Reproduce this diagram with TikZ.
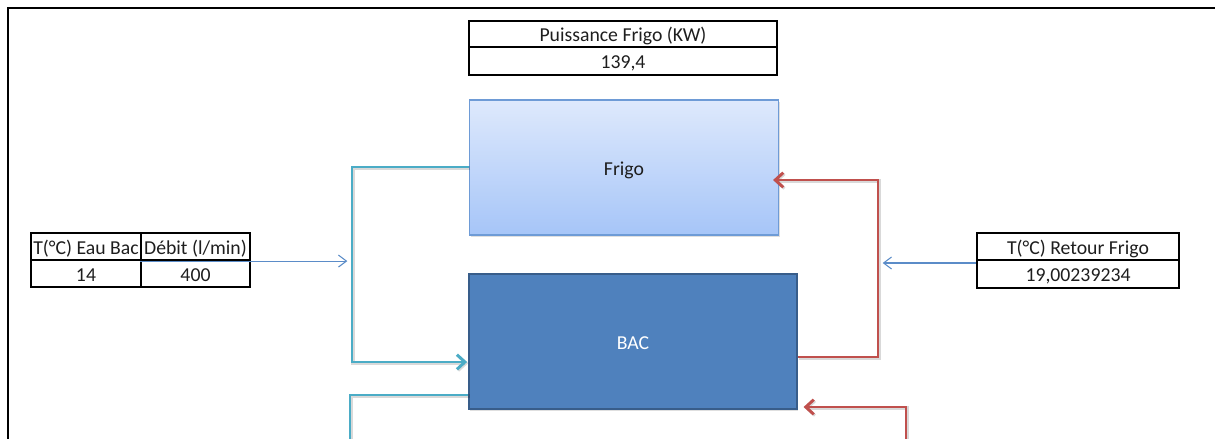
\documentclass[tikz,border=0pt]{standalone}
\usepackage{fontspec}
\setmainfont{Carlito}
\usetikzlibrary{arrows.meta,shadows}

\definecolor{pipecyan}{HTML}{4BACC6}
\definecolor{pipered}{HTML}{C0504D}
\definecolor{flowblue}{HTML}{5B8CC8}
\definecolor{bacfill}{HTML}{4F81BD}
\definecolor{bacline}{HTML}{385D8A}
\definecolor{frigotop}{HTML}{DEE9FC}
\definecolor{frigobot}{HTML}{A6C5F8}
\definecolor{frigoline}{HTML}{6E9BD6}
\definecolor{txt}{HTML}{1E1E1E}

\tikzset{
  lbl/.style={font=\fontsize{14.8pt}{17pt}\selectfont, text height=11.5pt, text depth=0pt},
  cell/.style={lbl, draw=black, line width=1.6pt, inner sep=0pt, text=txt},
  unit/.style={lbl, draw=frigoline, line width=0.9pt, inner sep=0pt,
    top color=frigotop, bottom color=frigobot, text=txt,
    drop shadow={shadow xshift=1pt, shadow yshift=-1.2pt, opacity=0.25}},
  tank/.style={lbl, draw=bacline, line width=0.9pt, inner sep=0pt,
    fill=bacfill, text=white,
    drop shadow={shadow xshift=1pt, shadow yshift=-1.2pt, opacity=0.25}},
  pipe/.style={line width=2.2pt, line join=miter,
    preaction={draw=black, opacity=0.15, line width=2.6pt,
      transform canvas={shift={(0.9pt,-0.9pt)}}}},
  cold/.style={pipe, draw=pipecyan},
  hot/.style={pipe, draw=pipered},
  chev/.style={-{Straight Barb[length=6pt,width=11pt,line width=2.2pt]}},
  feed/.style={draw=flowblue, line width=0.8pt,
    -{Straight Barb[length=6pt,width=9pt,line width=0.8pt]}},
  frame/.style={draw=black, line width=1.6pt}
}

\begin{document}
\begin{tikzpicture}[x=0.75pt, y=-0.75pt]
  \useasboundingbox (0,0) rectangle (1215,439);

  % sheet frame
  \draw[frame] (8,445) -- (8,8) -- (1220,8);

  % cooling power table
  \node[cell, minimum width=308*0.75pt, minimum height=26*0.75pt] (pH) at (623,34) {Puissance Frigo (KW)};
  \node[cell, minimum width=308*0.75pt, minimum height=28*0.75pt] (pV) at (623,61) {139,4};

  % chiller and tank
  \node[unit, minimum width=309*0.75pt, minimum height=135*0.75pt] (frigo) at (624,167.5) {Frigo};
  \node[tank, minimum width=328*0.75pt, minimum height=135*0.75pt] (bac) at (633,341.5) {BAC};

  % tank water table
  \node[cell, minimum width=110*0.75pt, minimum height=27*0.75pt] (hT) at (86,246.5) {T(°C) Eau Bac};
  \node[cell, minimum width=109*0.75pt, minimum height=27*0.75pt] (hD) at (195.5,246.5) {Débit (l/min)};
  \node[cell, minimum width=110*0.75pt, minimum height=27*0.75pt] (vT) at (86,273.5) {14};
  \node[cell, minimum width=109*0.75pt, minimum height=27*0.75pt] (vD) at (195.5,273.5) {400};

  % chiller return table
  \node[cell, minimum width=202*0.75pt, minimum height=27*0.75pt] (rH) at (1078,246.5) {T(°C) Retour Frigo};
  \node[cell, minimum width=202*0.75pt, minimum height=28*0.75pt] (rV) at (1078,274) {19,00239234};

  % pipe corners
  \coordinate (cA) at (352,167);
  \coordinate (cB) at (352,362);
  \coordinate (cC) at (350,395);
  \coordinate (cD) at (350,445);
  \coordinate (rA) at (878,357);
  \coordinate (rB) at (878,180);
  \coordinate (rC) at (906,445);
  \coordinate (rD) at (906,407);

  % cold water loop
  \draw[cold, chev] (frigo.west |- cA) -- (cA) -- (cB) -- ([xshift=-1pt]bac.west |- cB);
  \draw[cold] (bac.west |- cC) -- (cC) -- (cD);

  % warm water loop
  \draw[hot, chev] (bac.east |- rA) -- (rA) -- (rB) -- ([xshift=-4.5pt]frigo.east |- rB);
  \draw[hot, chev] (rC) -- (rD) -- ([xshift=4.5pt]bac.east |- rD);

  % value feeds
  \draw[feed] (hD.south west) -- ([xshift=-3.5pt]cA |- hD.south west);
  \coordinate (fR) at (977,263);
  \draw[feed] (rH.west |- fR) -- ([xshift=3.5pt]rA |- fR);
\end{tikzpicture}
\end{document}
